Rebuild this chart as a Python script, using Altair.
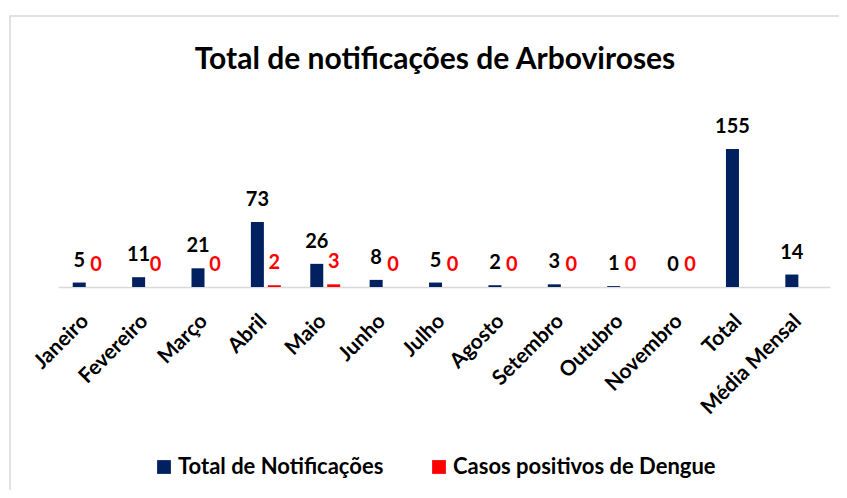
import altair as alt
import pandas as pd

categorias = ["Janeiro", "Fevereiro", "Março", "Abril", "Maio", "Junho", "Julho",
              "Agosto", "Setembro", "Outubro", "Novembro", "Total", "Média Mensal"]
total_notificacoes = [5, 11, 21, 73, 26, 8, 5, 2, 3, 1, 0, 155, 14]
casos_dengue = [0, 0, 0, 2, 3, 0, 0, 0, 0, 0, 0, None, None]
series = ["Total de Notificações", "Casos positivos de Dengue"]
cores = ["#002060", "#FF0000"]
cores_texto = ["#000000", "#FF0000"]

rows = []
for c, t, d in zip(categorias, total_notificacoes, casos_dengue):
    rows.append({"cat": c, "serie": series[0], "valor": t})
    if d is not None:
        rows.append({"cat": c, "serie": series[1], "valor": d})
df = pd.DataFrame(rows)

FONT = "Lato"

x_enc = alt.X("cat:N", sort=categorias, title=None,
              scale=alt.Scale(paddingInner=0.43, paddingOuter=0.215),
              axis=alt.Axis(labelAngle=-45, labelFont=FONT, labelFontSize=21,
                            labelFontWeight="bold", labelColor="#000000",
                            labelPadding=23, labelOffset=-10, ticks=False,
                            domainColor="#d9d9d9", domainWidth=1.5, grid=False))
xoff = alt.XOffset("serie:N", sort=series, scale=alt.Scale(domain=series))
y_enc = alt.Y("valor:Q", scale=alt.Scale(domain=[0, 210]), axis=None)

base = alt.Chart(df)

bars = base.mark_bar(size=13).encode(
    x=x_enc, xOffset=xoff, y=y_enc,
    color=alt.Color("serie:N", sort=series,
                    scale=alt.Scale(domain=series, range=cores),
                    legend=alt.Legend(title=None, orient="none", direction="horizontal",
                                      legendX=95, legendY=356,
                                      symbolType="square", symbolSize=190,
                                      symbolStrokeWidth=0, labelOffset=3,
                                      labelFont=FONT, labelFontSize=22,
                                      labelFontWeight="bold", labelColor="#000000",
                                      columnPadding=44, labelLimit=400)),
)

labels = base.mark_text(font=FONT, fontSize=20, fontWeight="bold",
                        baseline="bottom", dy=-12).encode(
    x=x_enc, xOffset=xoff, y=y_enc,
    text=alt.Text("valor:Q"),
    color=alt.Color("serie:N", sort=series,
                    scale=alt.Scale(domain=series, range=cores_texto), legend=None),
)

frame = alt.Chart(pd.DataFrame({"a": [0]})).mark_rect(
    fill=None, stroke="#d9d9d9", strokeWidth=1.5).encode(
    x=alt.value(-48), x2=alt.value(820), y=alt.value(-84), y2=alt.value(420))

chart = alt.layer(frame, bars, labels).resolve_scale(color="independent").properties(
    width=772, height=187,
    title=alt.TitleParams("Total de notificações de Arboviroses", font=FONT,
                          fontSize=30, fontWeight="bold", color="#000000",
                          anchor="middle", offset=0, dy=60, dx=-9),
    autosize=alt.AutoSizeParams(type="none"),
    padding={"left": 50, "top": 92, "right": 9, "bottom": 203},
).configure_view(stroke=None)

chart.save("out.html", embed_options={"renderer": "svg", "actions": False})
